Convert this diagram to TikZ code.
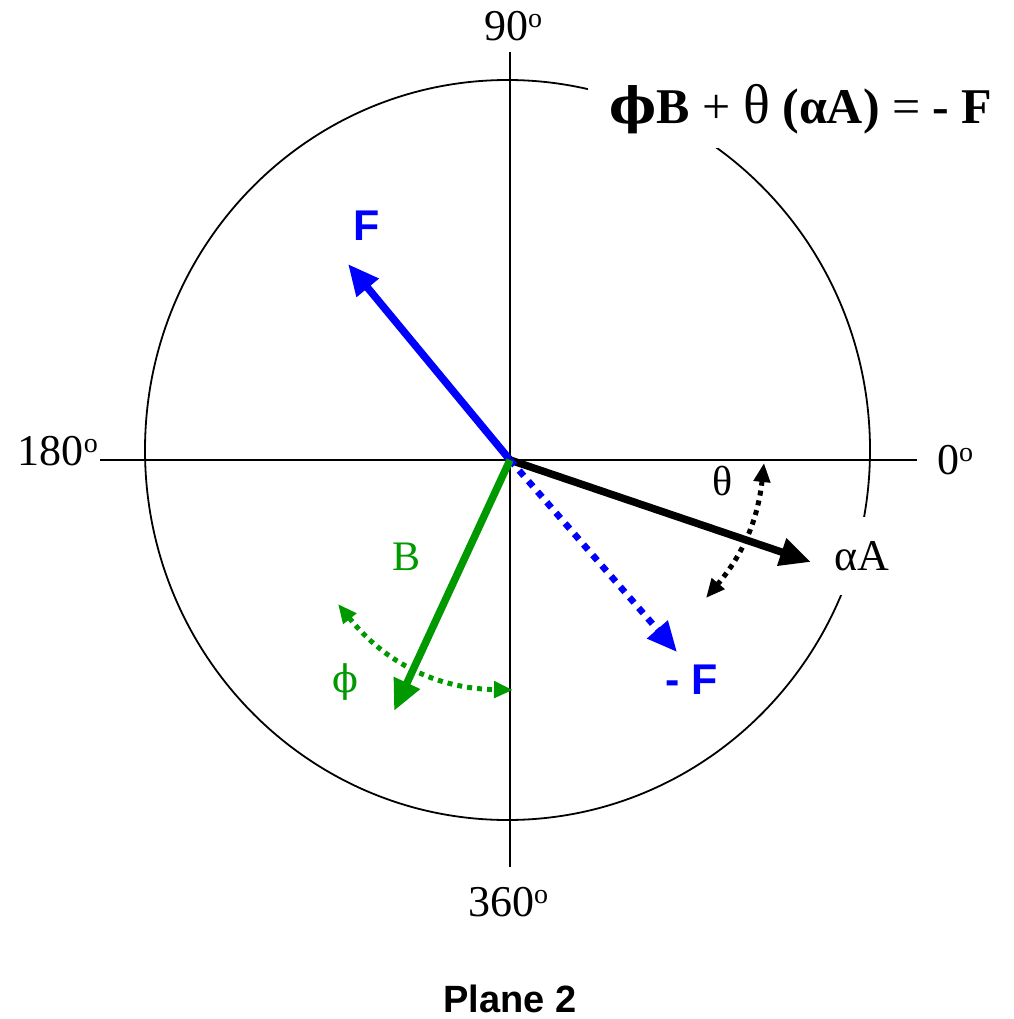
\documentclass[tikz,border=0pt]{standalone}
\usepackage{fontspec}
\setmainfont{Liberation Serif}
\newfontfamily\dvs{DejaVu Serif}
\newfontfamily\arial{Liberation Sans}
\usetikzlibrary{arrows.meta}
\definecolor{vblue}{RGB}{0,0,255}
\definecolor{vgreen}{RGB}{0,153,0}
\newcommand{\degsup}{{\fontsize{28}{30}\selectfont\raisebox{13pt}{o}}}
\tikzset{
  axisline/.style={line width=2.2pt},
  ring/.style={line width=1.8pt},
  vecline/.style={line width=7.5pt,-{Triangle[length=31pt,width=27pt]}},
  dotvec/.style={line width=6.5pt,dash pattern=on 7pt off 7pt,-{Triangle[length=30pt,width=26pt]}},
  dotarc/.style={line width=5pt,dash pattern=on 5pt off 5pt,{Triangle[length=19pt,width=16pt]}-{Triangle[length=19pt,width=16pt]}},
  coverbox/.style={fill=white,draw=none,inner sep=0pt},
  anglbl/.style={inner sep=0pt,font=\fontsize{44}{50}\selectfont},
  grklbl/.style={inner sep=0pt,font=\fontsize{42}{48}\selectfont},
  sanslbl/.style={inner sep=0pt,font=\fontsize{43}{48}\selectfont\arial\bfseries},
  eqlbl/.style={inner sep=0pt,font=\fontsize{50}{56}\selectfont\bfseries},
  ttllbl/.style={inner sep=0pt,font=\fontsize{38}{42}\selectfont\arial\bfseries}
}
\begin{document}
\begin{tikzpicture}[x=1pt,y=-1pt]
\useasboundingbox (0,0) rectangle (1013,1019);
\coordinate (O) at (510,460);
\coordinate (xl) at (100,460);
\coordinate (xr) at (917,460);
\coordinate (yt) at (510,52);
\coordinate (yb) at (510,867);
% axes and circle
\draw[axisline] (xl) -- (xr);
\draw[axisline] (yt) -- (yb);
\draw[ring] (507.5,450) ellipse [x radius=362.5, y radius=370];
% white boxes that break the circle
\node[coverbox,minimum width=425pt,minimum height=88pt] (eqbox) at (800,104) {};
\node[coverbox,minimum width=64pt,minimum height=78pt] (aabox) at (862,556) {};
% angle labels
\node[anglbl,anchor=base] (l90) at (513,41) {90\degsup};
\node[anglbl,anchor=base east] (l180) at (98,465) {180\degsup};
\node[anglbl,anchor=base west] (l0) at (937,474) {0\degsup};
\node[anglbl,anchor=base] (l360) at (508,916) {360\degsup};
% equation
\node[eqlbl,anchor=base] (eq) at (801,124) {{\dvs ϕ}B {\mdseries + {\fontsize{56}{60}\selectfont θ}} (αA) {\mdseries =} - F};
% vectors
\coordinate (Ft) at (348,264);
\coordinate (At) at (811,562);
\coordinate (mFt) at (677,652);
\coordinate (Bt) at (394,711);
\draw[vecline,vblue] (O) -- (Ft);
\draw[vecline,black] (O) -- (At);
\draw[dotvec,vblue] (O) -- (mFt);
\draw[vecline,vgreen] (O) -- (Bt);
% angle arcs
\coordinate (th1) at (764,463);
\coordinate (th2) at (706,598);
\draw[dotarc,black] (th1) to[bend left=17] (th2);
\coordinate (ph1) at (338,604);
\coordinate (ph2) at (513,690);
\draw[dotarc,vgreen] (ph1) to[bend right=25] (ph2);
% vector labels
\node[sanslbl,text=vblue] (lF) at (367,226) {F};
\node[sanslbl,text=vblue] (lmF) at (692,680) {- F};
\node[grklbl] (lth) at (723,481) {θ};
\node[grklbl,font=\fontsize{44}{50}\selectfont] (lA) at (862,556) {αA};
\node[grklbl,text=vgreen] (lB) at (407,557) {B};
\node[grklbl,text=vgreen,font=\fontsize{38}{44}\selectfont\dvs] (lph) at (345,682) {ϕ};
% title
\node[ttllbl,anchor=base] (ttl) at (510,1012) {Plane 2};
\end{tikzpicture}
\end{document}
